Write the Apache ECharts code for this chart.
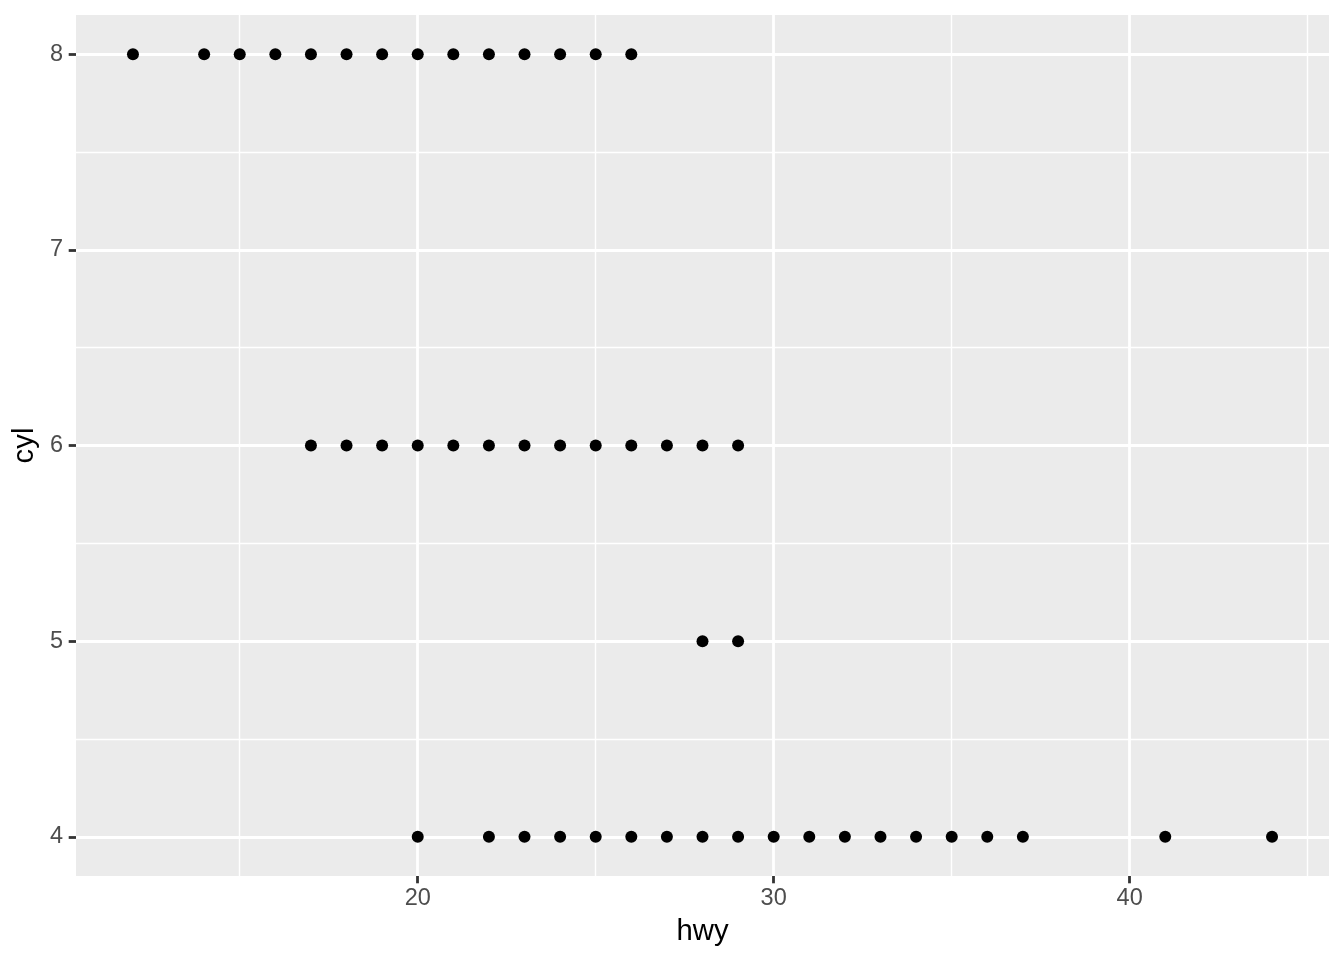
<!DOCTYPE html>
<html>
<head>
<meta charset="utf-8">
<script src="https://cdn.jsdelivr.net/npm/echarts@6/dist/echarts.min.js"></script>
<style>
html,body{margin:0;padding:0;background:#fff;}
#c{width:1344px;height:960px;}
</style>
</head>
<body>
<div id="c"></div>
<script>
// Data (mpg: hwy by cyl)
const hwy8 = [12, 14, 15, 16, 17, 18, 19, 20, 21, 22, 23, 24, 25, 26];
const hwy6 = [17, 18, 19, 20, 21, 22, 23, 24, 25, 26, 27, 28, 29];
const hwy5 = [28, 29];
const hwy4 = [20, 22, 23, 24, 25, 26, 27, 28, 29, 30, 31, 32, 33, 34, 35, 36, 37, 41, 44];
const xTicks = [20, 30, 40];
const xMinor = [15, 25, 35, 45];
const yTicks = [4, 5, 6, 7, 8];
const yMinor = [4.5, 5.5, 6.5, 7.5];
const xRange = [10.4, 45.6];
const yRange = [3.8, 8.2];

const points = [];
[[8, hwy8], [6, hwy6], [5, hwy5], [4, hwy4]].forEach(([c, arr]) => {
  arr.forEach(h => points.push([h, c]));
});

const gridLines = [];
xMinor.forEach(v => gridLines.push({xAxis: v, lineStyle: {width: 1.4}}));
yMinor.forEach(v => gridLines.push({yAxis: v, lineStyle: {width: 1.4}}));
xTicks.forEach(v => gridLines.push({xAxis: v, lineStyle: {width: 2.8}}));
yTicks.forEach(v => gridLines.push({yAxis: v, lineStyle: {width: 2.8}}));

const font = '"Liberation Sans", Arial, Helvetica, sans-serif';
const chart = echarts.init(document.getElementById('c'), null, {renderer: 'canvas'});
chart.setOption({
  animation: false,
  backgroundColor: '#ffffff',
  grid: {left: 76, right: 15, top: 15, bottom: 84, show: true, backgroundColor: '#EBEBEB', borderWidth: 0},
  xAxis: {
    type: 'value', min: xRange[0], max: xRange[1],
    name: 'hwy', nameLocation: 'middle', nameGap: 41,
    nameTextStyle: {color: '#000', fontSize: 29.3, fontFamily: font},
    axisLine: {show: false},
    axisTick: {show: true, length: 7.3, customValues: xTicks, lineStyle: {color: '#333333', width: 2.8}},
    axisLabel: {customValues: xTicks, color: '#4D4D4D', fontSize: 23.5, fontFamily: font, margin: 11},
    splitLine: {show: false}
  },
  yAxis: {
    type: 'value', min: yRange[0], max: yRange[1],
    name: 'cyl', nameLocation: 'middle', nameGap: 37, nameRotate: 90,
    nameTextStyle: {color: '#000', fontSize: 29.3, fontFamily: font},
    axisLine: {show: false},
    axisTick: {show: true, length: 7.3, customValues: yTicks, lineStyle: {color: '#333333', width: 2.8}},
    axisLabel: {customValues: yTicks, color: '#4D4D4D', fontSize: 23.5, fontFamily: font, margin: 13},
    splitLine: {show: false}
  },
  series: [
    {
      type: 'scatter', data: [], z: 1, silent: true,
      markLine: {
        silent: true, symbol: ['none', 'none'], animation: false,
        label: {show: false},
        lineStyle: {color: '#ffffff', type: 'solid', opacity: 1},
        emphasis: {disabled: true},
        data: gridLines
      }
    },
    {
      type: 'scatter', z: 5, data: points, symbol: 'circle', symbolSize: 12,
      itemStyle: {color: '#000000', opacity: 1}
    }
  ]
});
</script>
</body>
</html>
